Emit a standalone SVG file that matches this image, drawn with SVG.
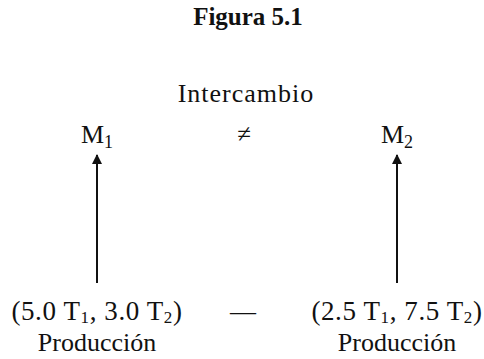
<svg xmlns="http://www.w3.org/2000/svg" width="484" height="359" viewBox="0 0 484 359">
<defs>
<style>
text{font-family:"Liberation Serif","DejaVu Serif",serif;fill:#111;font-size:26px;text-anchor:middle}
.title{font-weight:bold;font-size:25px}
.sub{font-size:18px}
.pair .sub{font-size:17px}
.pair{font-size:27px;letter-spacing:0.6px}
.conn{stroke:#111;stroke-width:2;fill:none}
</style>
<marker id="ah" viewBox="0 0 10 10" refX="9" refY="5" markerWidth="10" markerHeight="10" markerUnits="userSpaceOnUse" orient="auto"><path d="M0,0 L10,5 L0,10 Z" fill="#111"/></marker>
</defs>
<rect width="484" height="359" fill="#fff"/>
<text class="title" x="248" y="25">Figura 5.1</text>
<g id="intercambio"><text x="246" y="102" style="letter-spacing:1px">Intercambio</text></g>
<g id="m1"><text x="97" y="143">M<tspan class="sub" dy="5">1</tspan></text></g>
<g id="neq"><text x="244" y="142" style="font-size:25px">≠</text></g>
<g id="m2"><text x="397" y="143">M<tspan class="sub" dy="5">2</tspan></text></g>
<g id="p1"><text class="pair" x="97" y="320">(5.0 T<tspan class="sub" dy="3">1</tspan><tspan dy="-3">, 3.0 T</tspan><tspan class="sub" dy="3">2</tspan><tspan dy="-3">)</tspan></text>
<text x="97" y="351">Producción</text></g>
<g id="dash"><text x="243" y="320">—</text></g>
<g id="p2"><text class="pair" x="397" y="320">(2.5 T<tspan class="sub" dy="3">1</tspan><tspan dy="-3">, 7.5 T</tspan><tspan class="sub" dy="3">2</tspan><tspan dy="-3">)</tspan></text>
<text x="397" y="351">Producción</text></g>
<g id="connectors">
<line class="conn" x1="97" y1="283" x2="97" y2="155" marker-end="url(#ah)"/>
<line class="conn" x1="397" y1="283" x2="397" y2="155" marker-end="url(#ah)"/>
</g>
</svg>
